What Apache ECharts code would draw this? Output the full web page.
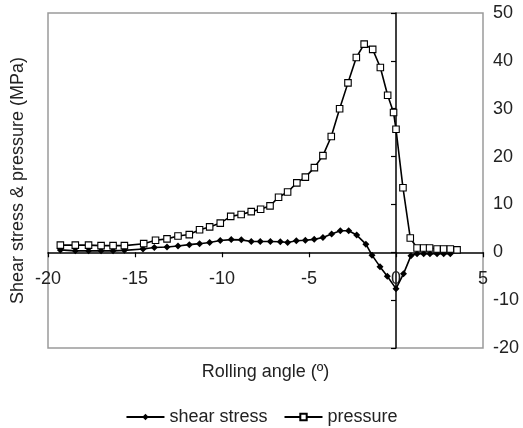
<!DOCTYPE html>
<html>
<head>
<meta charset="utf-8">
<script src="https://cdn.jsdelivr.net/npm/echarts@6/dist/echarts.min.js"></script>
<style>
html,body{margin:0;padding:0;background:#fff;}
#chart{width:523px;height:428px;}
</style>
</head>
<body>
<div id="chart"></div>
<script>
var shearAngle = [-19.29, -18.43, -17.67, -16.95, -16.26, -15.61, -14.54, -13.89, -13.16, -12.53, -11.88, -11.29, -10.71, -10.10, -9.47, -8.89, -8.32, -7.80, -7.22, -6.65, -6.23, -5.73, -5.21, -4.70, -4.20, -3.70, -3.20, -2.72, -2.26, -1.73, -1.38, -0.92, -0.50, 0, 0.43, 0.86, 1.21, 1.59, 1.95, 2.36, 2.74, 3.12];
var shearStress = [0.5, 0.3, 0.3, 0.3, 0.3, 0.4, 0.7, 1.0, 1.1, 1.3, 1.6, 1.8, 2.05, 2.45, 2.65, 2.6, 2.25, 2.25, 2.25, 2.2, 2.05, 2.4, 2.5, 2.7, 3.1, 3.8, 4.5, 4.5, 3.6, 1.7, -0.6, -3.0, -5.0, -7.6, -4.5, -0.7, -0.3, -0.3, -0.3, -0.3, -0.3, -0.3];
var pressureAngle = [-19.29, -18.43, -17.67, -16.95, -16.26, -15.61, -14.5, -13.82, -13.16, -12.53, -11.88, -11.29, -10.71, -10.10, -9.50, -8.90, -8.32, -7.78, -7.24, -6.75, -6.23, -5.70, -5.21, -4.69, -4.20, -3.72, -3.24, -2.76, -2.28, -1.83, -1.34, -0.90, -0.48, -0.14, 0, 0.40, 0.82, 1.21, 1.59, 1.93, 2.36, 2.74, 3.12, 3.51];
var pressure = [1.5, 1.5, 1.5, 1.4, 1.4, 1.4, 1.8, 2.5, 2.8, 3.4, 3.7, 4.7, 5.3, 6.1, 7.5, 7.9, 8.5, 9.0, 9.7, 11.5, 12.6, 14.5, 15.7, 17.7, 20.2, 24.2, 30.0, 35.4, 40.7, 43.5, 42.4, 38.6, 32.8, 29.2, 25.7, 13.5, 3.0, 0.9, 0.9, 0.9, 0.7, 0.7, 0.7, 0.5];
var seriesNames = ['shear stress', 'pressure'];
var xTitle = 'Rolling angle (º)';
var yTitle = 'Shear stress & pressure (MPa)';
var yMin = -20, yMax = 50;

function pairs(xs, ys) { return xs.map(function (x, i) { return [x, ys[i]]; }); }

var W = 523, H = 428;
var gridTop = 13, gridBottom = 80;
var plotH = H - gridTop - gridBottom;
// x axis sits on y = 0: shift it up from the grid's bottom edge
var zeroOffset = -plotH * (0 - yMin) / (yMax - yMin);

var textColor = '#222';
var font = 'Liberation Sans, Arial, sans-serif';
var chart = echarts.init(document.getElementById('chart'));
chart.setOption({
  animation: false,
  textStyle: { fontFamily: font },
  grid: { left: 48, right: 40, top: gridTop, bottom: gridBottom, show: true, borderColor: '#9a9a9a', borderWidth: 1.5, backgroundColor: 'transparent' },
  legend: {
    data: seriesNames, left: 'center', top: 403, itemWidth: 38, itemHeight: 8, itemGap: 16,
    textStyle: { fontSize: 18, color: textColor, fontFamily: font }
  },
  xAxis: [
    { type: 'value', min: -20, max: 5, interval: 5, position: 'bottom', offset: zeroOffset,
      axisLine: { show: true, onZero: false, lineStyle: { color: '#000', width: 1.5 } },
      axisTick: { show: true, length: 5, lineStyle: { color: '#000', width: 1.2 } },
      axisLabel: { fontSize: 18, color: textColor, margin: 18, fontFamily: font },
      splitLine: { show: false } },
    { type: 'value', min: -20, max: 5, position: 'bottom',
      axisLine: { show: false, onZero: false }, axisTick: { show: false }, axisLabel: { show: false }, splitLine: { show: false },
      name: xTitle, nameLocation: 'middle', nameGap: 15,
      nameTextStyle: { fontSize: 18, color: textColor, fontFamily: font } }
  ],
  yAxis: [
    { type: 'value', min: yMin, max: yMax, interval: 10, position: 'right',
      axisLine: { show: false, onZero: false }, axisTick: { show: false },
      axisLabel: { fontSize: 18, color: textColor, margin: 10, fontFamily: font },
      splitLine: { show: false } },
    { type: 'value', min: yMin, max: yMax, interval: 10, position: 'left',
      axisLine: { show: true, onZero: true, onZeroAxisIndex: 0, lineStyle: { color: '#000', width: 1.5 } },
      axisTick: { show: true, length: 5, lineStyle: { color: '#000', width: 1.2 } },
      axisLabel: { show: false }, splitLine: { show: false } },
    { type: 'value', min: yMin, max: yMax, position: 'left',
      axisLine: { show: false, onZero: false }, axisTick: { show: false }, axisLabel: { show: false }, splitLine: { show: false },
      name: yTitle, nameLocation: 'middle', nameGap: 21,
      nameTextStyle: { fontSize: 18, color: textColor, fontFamily: font } }
  ],
  series: [
    { name: seriesNames[0], type: 'line', xAxisIndex: 0, yAxisIndex: 0,
      data: pairs(shearAngle, shearStress),
      symbol: 'diamond', symbolSize: 7,
      itemStyle: { color: '#000' }, lineStyle: { color: '#000', width: 1.6 } },
    { name: seriesNames[1], type: 'line', xAxisIndex: 0, yAxisIndex: 0,
      data: pairs(pressureAngle, pressure),
      symbol: 'rect', symbolSize: 6.5,
      itemStyle: { color: '#fff', borderColor: '#000', borderWidth: 1.1 }, lineStyle: { color: '#000', width: 1.6 } }
  ]
});
</script>
</body>
</html>
